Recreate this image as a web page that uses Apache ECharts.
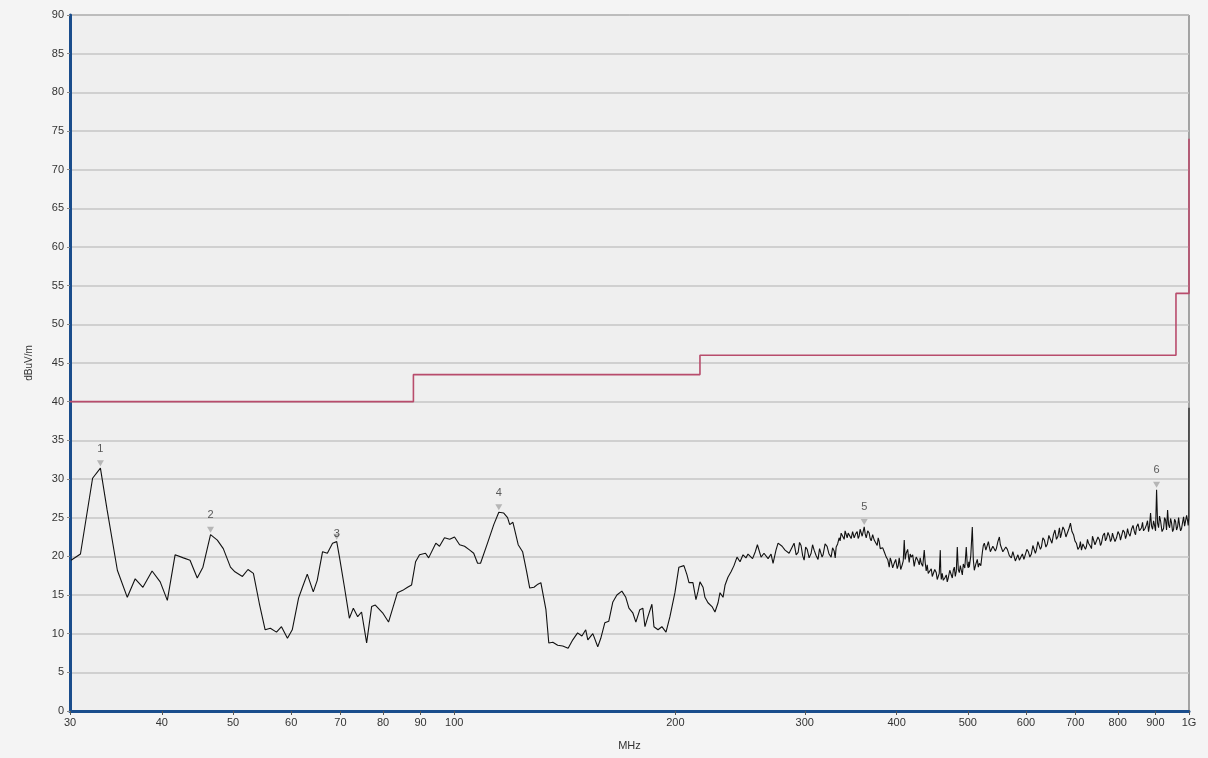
<!DOCTYPE html>
<html>
<head>
<meta charset="utf-8">
<script src="https://cdn.jsdelivr.net/npm/echarts/dist/echarts.min.js"></script>
<style>
html,body{margin:0;padding:0;background:#f4f4f4;}
#chart{width:1208px;height:758px;}
</style>
</head>
<body>
<div id="chart"></div>
<script>
// Measured trace, 30–290 MHz (frequency in MHz, level in dBuV/m)
const freqLow = [
30.1,31.0,32.2,33.0,33.7,34.8,35.9,36.8,37.7,38.8,39.8,40.7,41.7,42.8,43.7,44.7,45.5,46.6,47.6,48.5,
49.6,50.3,51.5,52.4,53.3,54.3,55.3,56.2,57.3,58.2,59.3,60.2,61.4,62.1,63.1,64.3,65.1,66.2,67.2,68.3,
69.2,69.8,70.9,72.0,72.9,73.9,74.8,76.0,77.2,78.1,79.9,81.4,83.7,85.1,86.4,87.5,88.6,89.7,91.4,92.3,
94.4,95.5,97.0,98.6,100.1,101.7,103.3,105.0,106.3,107.6,108.6,111.0,113.2,115.0,116.8,118.2,119.0,120.2,122.2,123.9,
125.5,126.7,128.4,130.0,131.2,133.3,134.5,136.2,138.3,140.5,142.9,145.0,147.2,149.2,151.0,152.0,154.4,156.8,158.3,160.3,
162.3,164.4,166.5,169.1,171.2,172.9,175.0,176.7,178.9,180.6,181.8,183.5,185.8,187.0,189.4,191.7,194.2,196.6,199.7,202.2,
205.4,207.4,208.7,211.3,213.3,214.6,216.0,218.1,219.4,221.5,224.3,226.4,228.6,230.0,232.2,233.7,235.8,238.1,240.3,242.6,
244.9,247.2,249.5,251.1,254.7,256.9,258.6,261.6,264.0,267.4,269.9,271.6,274.1,275.9,279.4,282.0,285.6
];
const levelLow = [
19.5,20.3,30.1,31.4,26.0,18.2,14.7,17.1,16.0,18.1,16.7,14.3,20.2,19.8,19.5,17.2,18.6,22.8,22.1,21.0,
18.6,18.0,17.4,18.3,17.8,13.9,10.5,10.7,10.2,10.9,9.4,10.5,14.6,15.9,17.7,15.4,16.9,20.6,20.4,21.7,
21.9,19.9,16.0,12.0,13.3,12.2,12.8,8.8,13.5,13.7,12.7,11.5,15.3,15.6,16.0,16.3,19.3,20.2,20.4,19.8,
21.7,21.3,22.4,22.2,22.5,21.5,21.3,20.8,20.4,19.1,19.1,21.7,24.1,25.7,25.6,25.0,24.1,24.4,21.5,20.6,
18.0,15.9,16.0,16.4,16.6,13.1,8.8,8.9,8.5,8.4,8.1,9.2,10.1,9.7,10.5,9.2,10.0,8.3,9.4,11.4,
11.6,14.1,15.0,15.5,14.7,13.3,12.7,11.5,13.1,13.3,10.9,12.2,13.8,10.9,10.5,10.9,10.2,12.2,15.3,18.6,
18.8,17.6,16.6,16.6,14.4,15.4,16.7,16.0,14.7,14.0,13.5,12.8,14.0,15.3,14.7,16.3,17.3,18.0,18.8,19.9,
19.3,20.2,19.8,20.3,19.7,20.6,21.5,19.9,20.4,19.7,20.3,19.1,20.8,21.7,21.3,20.8,20.4
];
// Measured trace, 290–1000 MHz (dense, noisy part)
const freqHigh = [
290.1,292.0,293.8,295.1,296.5,298.0,299.4,300.8,302.3,304.1,
306.0,307.4,308.9,310.8,312.7,314.2,315.7,316.7,317.7,319.7,
321.7,323.7,325.8,327.3,328.9,330.0,331.0,332.5,334.1,335.1,
336.2,337.8,339.4,340.4,341.5,342.6,343.7,345.3,346.9,348.5,
350.2,351.8,353.5,354.6,355.7,356.8,358.0,359.1,360.2,361.4,
362.5,363.7,365.4,367.1,368.2,369.4,371.1,372.9,374.6,376.4,
377.6,378.8,380.0,381.2,383.0,384.8,386.0,387.2,389.0,390.9,
392.1,393.3,395.1,397.0,398.9,400.8,402.0,403.3,405.2,407.1,
408.4,409.7,410.9,412.2,414.1,416.1,417.4,418.8,420.7,422.7,
424.0,425.4,427.4,429.4,430.7,432.1,434.1,436.2,437.5,438.9,
440.3,441.7,443.8,445.9,447.3,448.7,450.8,452.9,454.3,455.8,
457.2,458.7,459.4,460.1,461.5,463.0,465.2,467.4,468.8,470.3,
472.5,474.8,476.3,477.8,479.3,480.8,482.3,483.8,485.3,486.9,
488.4,489.9,491.5,493.0,495.3,497.6,499.1,500.7,501.5,502.3,
504.7,507.1,508.7,510.3,512.7,515.1,516.7,518.4,520.8,523.3,
524.9,526.6,529.1,531.6,533.3,535.0,536.6,538.3,540.8,543.4,
545.1,546.8,549.4,552.0,553.7,555.4,558.0,560.7,563.3,566.0,
569.5,573.1,575.8,578.5,580.3,582.2,585.0,587.7,590.5,593.3,
596.1,598.9,601.7,604.5,607.3,610.2,613.1,616.0,617.9,619.8,
622.8,625.8,627.7,629.7,632.6,635.6,638.6,641.6,644.6,647.7,
650.8,653.9,657.0,660.1,663.2,666.3,668.4,670.5,673.6,676.8,
680.0,683.3,686.5,689.7,693.0,696.4,699.5,702.7,706.0,709.4,
711.6,713.9,717.2,720.6,722.9,725.2,727.5,729.8,733.2,736.7,
739.0,741.3,744.8,748.3,751.8,755.4,757.7,760.1,763.7,767.3,
769.7,772.2,775.8,779.4,781.9,784.4,786.8,789.3,793.0,796.8,
800.5,804.3,806.8,809.4,813.2,817.0,819.6,822.2,824.8,827.4,
831.3,835.2,839.1,843.1,845.7,848.4,852.4,856.4,859.1,861.8,
864.5,867.2,871.3,875.4,878.1,880.9,883.7,886.5,889.3,892.1,
894.9,897.7,900.5,903.4,906.2,909.0,911.8,914.7,919.0,923.4,
926.3,929.2,932.1,935.1,938.0,941.0,943.9,946.9,949.8,952.8,
955.8,958.8,961.8,964.9,967.9,970.9,974.0,977.0,980.1,983.2,
986.3,989.4,992.5,995.6,997.5,999.5,1000
];
const levelHigh = [
21.7,20.2,20.5,21.8,21.4,20.1,19.5,21.2,20.9,19.8,
20.4,21.5,20.8,20.1,19.6,21.0,20.9,19.9,20.2,21.6,
21.3,20.3,19.9,21.1,20.7,19.8,21.2,21.6,22.4,22.0,
23.0,22.6,22.2,23.3,23.1,22.4,23.0,22.8,22.3,23.2,
22.4,22.9,23.2,22.3,22.6,23.5,23.7,22.6,22.8,23.8,
22.9,22.4,23.3,23.0,22.3,22.0,22.8,22.1,21.9,21.4,
22.4,21.9,21.0,21.2,21.1,20.6,20.8,19.9,19.6,18.6,
19.8,19.4,18.5,19.1,19.6,18.4,18.8,19.8,18.3,18.9,
19.4,22.1,19.6,20.4,20.9,19.2,20.3,19.9,20.2,18.7,
19.4,19.9,19.5,18.9,19.8,19.1,18.7,20.8,19.2,18.1,
18.9,17.8,18.0,18.4,17.4,17.3,18.3,17.9,17.0,16.9,
17.8,20.8,18.0,17.0,17.8,16.9,17.2,17.6,16.7,17.2,
18.2,18.0,17.2,18.2,18.6,17.4,18.1,21.2,18.3,17.9,
18.8,18.2,17.6,19.0,18.5,21.2,19.0,18.5,19.3,18.6,
20.1,23.8,19.6,18.2,19.0,19.6,18.6,19.1,18.8,20.5,
21.4,21.7,20.8,21.0,21.9,21.2,20.6,20.5,21.3,21.5,
20.7,21.0,21.9,22.5,21.5,21.4,20.6,20.4,21.2,20.9,
20.1,19.8,20.6,20.4,19.4,19.5,20.2,19.5,19.9,20.3,
19.6,19.8,20.9,20.6,19.9,20.3,21.4,21.2,20.4,20.8,
21.9,21.7,20.9,21.2,22.4,22.1,21.2,21.6,22.7,22.5,
21.7,22.8,23.4,22.2,22.6,23.7,22.4,22.9,23.8,23.4,
22.5,22.7,23.6,24.3,23.2,22.8,22.0,21.7,20.9,21.2,
21.9,20.8,21.6,21.8,20.9,21.3,22.2,21.7,21.4,21.0,
22.6,22.5,21.5,21.6,22.5,22.1,21.4,21.7,22.7,23.0,
22.0,22.3,23.1,22.6,21.9,22.2,23.0,22.5,21.9,22.4,
23.2,22.8,22.1,22.6,23.4,23.1,22.3,22.7,23.6,23.0,
22.6,23.5,24.0,23.1,22.8,23.8,24.2,23.3,23.1,23.7,
24.4,23.3,23.6,24.1,24.6,23.2,24.0,25.6,23.9,23.5,
24.6,24.0,23.3,28.6,24.3,23.7,25.2,24.6,23.2,23.6,
25.0,24.7,23.4,26.0,24.1,23.7,24.9,24.3,23.2,23.5,
24.8,24.5,23.4,23.8,25.0,24.0,23.3,23.6,24.4,25.1,
23.9,24.1,25.3,24.6,24.0,25.0,39.2
];
// Limit line (step)
const limitFreq = [30, 88, 88, 216, 216, 960, 960, 1000, 1000];
const limitDb   = [40, 40, 43.5, 43.5, 46, 46, 54, 54, 74];
// Peak markers
const markerNo   = ['1','2','3','4','5','6'];
const markerFreq = [33.0, 46.6, 69.2, 115.0, 361.4, 903.4];
const markerDb   = [31.4, 22.8, 21.9, 25.7, 23.8, 28.6];
// Axis ticks
const xTickFreq = [30,40,50,60,70,80,90,100,200,300,400,500,600,700,800,900,1000];
const xTickText = ['30','40','50','60','70','80','90','100','200','300','400','500','600','700','800','900','1G'];

const lg = v => Math.log10(v);
const freqMHz = freqLow.concat(freqHigh);
const levelDb = levelLow.concat(levelHigh);
const trace = freqMHz.map((f, i) => [lg(f), levelDb[i]]);
const limit = limitFreq.map((f, i) => [lg(f), limitDb[i]]);
const markers = markerFreq.map((f, i) => ({
  value: [lg(f), markerDb[i]], name: markerNo[i],
  label: { distance: i === 2 ? -6 : 6 }
}));
const tickVals = xTickFreq.map(lg);
const labelFor = v => {
  let best = 0;
  tickVals.forEach((t, i) => { if (Math.abs(t - v) < Math.abs(tickVals[best] - v)) best = i; });
  return xTickText[best];
};

const font = 'Liberation Sans, Arial, sans-serif';
const chart = echarts.init(document.getElementById('chart'), null, { renderer: 'canvas' });
chart.setOption({
  backgroundColor: '#f4f4f4',
  animation: false,
  grid: { left: 70, right: 19, top: 15, bottom: 47, show: true, backgroundColor: '#efefef', borderColor: '#555555', borderWidth: 1 },
  xAxis: {
    type: 'value', min: lg(30), max: 3,
    name: 'MHz', nameLocation: 'middle', nameGap: 29,
    nameTextStyle: { fontFamily: font, fontSize: 11, color: '#333' },
    axisLine: { show: true, onZero: false, lineStyle: { color: '#1a4d8c', width: 3 } },
    axisTick: { show: true, customValues: tickVals, length: 4, lineStyle: { color: '#555' } },
    axisLabel: { customValues: tickVals, formatter: labelFor, fontFamily: font, fontSize: 11, color: '#333', margin: 6 },
    splitLine: { show: false }
  },
  yAxis: {
    type: 'value', min: 0, max: 90, interval: 5,
    name: 'dBuV/m', nameLocation: 'middle', nameGap: 36, nameRotate: 90,
    nameTextStyle: { fontFamily: font, fontSize: 10, color: '#333' },
    axisLine: { show: true, lineStyle: { color: '#1a4d8c', width: 3 } },
    axisTick: { show: true, length: 3, lineStyle: { color: '#888' } },
    axisLabel: { fontFamily: font, fontSize: 11, color: '#333', margin: 6 },
    splitLine: { show: true, lineStyle: { color: '#c6c6c6', width: 1.5 } }
  },
  series: [
    { type: 'line', data: limit, showSymbol: false, lineStyle: { color: '#b84c6c', width: 1.6 }, z: 3 },
    { type: 'line', data: trace, showSymbol: false, lineStyle: { color: '#111111', width: 1.1 }, z: 4 },
    {
      type: 'scatter', data: markers, symbol: 'triangle', symbolRotate: 180, symbolSize: [7, 6], symbolOffset: [0, -5],
      itemStyle: { color: '#a8a8a8' }, z: 5,
      label: { show: true, position: 'top', formatter: p => p.name, fontFamily: font, fontSize: 11, color: '#333' }
    }
  ]
});
</script>
</body>
</html>
